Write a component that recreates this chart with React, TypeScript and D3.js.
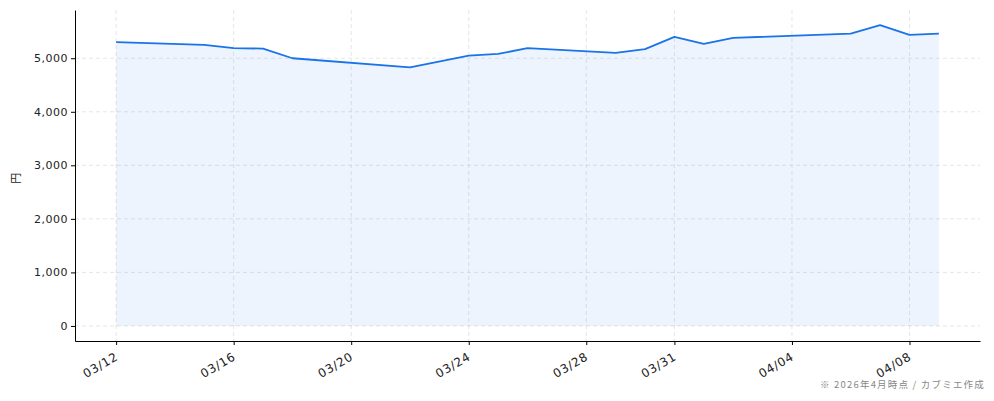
import React, { useEffect, useRef } from 'react';
import * as d3 from 'd3';

// daily closing price (円)
const dates = [
  '2026-03-12', '2026-03-15', '2026-03-16', '2026-03-17', '2026-03-18',
  '2026-03-22', '2026-03-24', '2026-03-25', '2026-03-26', '2026-03-29',
  '2026-03-30', '2026-03-31', '2026-04-01', '2026-04-02', '2026-04-06',
  '2026-04-07', '2026-04-08', '2026-04-09',
];
const prices = [
  5300, 5250, 5190, 5180, 5000,
  4830, 5050, 5080, 5190, 5100,
  5170, 5400, 5270, 5380, 5460,
  5620, 5435, 5460,
];
const xTickDates = [
  '2026-03-12', '2026-03-16', '2026-03-20', '2026-03-24',
  '2026-03-28', '2026-03-31', '2026-04-04', '2026-04-08',
];
const yTicks = [0, 1000, 2000, 3000, 4000, 5000];

const W = 994;
const H = 401;
const FONT = '"Noto Sans CJK JP", "Noto Sans", sans-serif';
const NUM_FONT = '"DejaVu Sans", "Noto Sans CJK JP", sans-serif';

const App: React.FC = () => {
  const ref = useRef<SVGSVGElement>(null);

  useEffect(() => {
    const svg = d3.select(ref.current);
    svg.selectAll('*').remove();

    const margin = { top: 10, right: 14, bottom: 60, left: 75 };
    const parse = d3.timeParse('%Y-%m-%d');
    const data = dates.map((d, i) => ({ date: parse(d)!, value: prices[i] }));

    // matplotlib-style 5% margins
    const x0 = data[0].date.getTime();
    const x1 = data[data.length - 1].date.getTime();
    const xPad = (x1 - x0) * 0.05;
    const x = d3.scaleTime()
      .domain([new Date(x0 - xPad), new Date(x1 + xPad)])
      .range([margin.left, W - margin.right]);

    const yMax = d3.max(prices)!;
    const yPad = yMax * 0.05;
    const y = d3.scaleLinear()
      .domain([-yPad, yMax + yPad])
      .range([H - margin.bottom, margin.top]);

    const ticks = xTickDates.map(d => parse(d)!);

    // grid
    const grid = svg.append('g');
    grid.selectAll('line.gx')
      .data(ticks)
      .enter().append('line')
      .attr('x1', d => x(d)).attr('x2', d => x(d))
      .attr('y1', margin.top).attr('y2', H - margin.bottom)
      .attr('stroke', '#dcdfe4').attr('stroke-dasharray', '4,3').attr('stroke-width', 0.8);
    grid.selectAll('line.gy')
      .data(yTicks)
      .enter().append('line')
      .attr('x1', margin.left).attr('x2', W - margin.right)
      .attr('y1', d => y(d)).attr('y2', d => y(d))
      .attr('stroke', '#dcdfe4').attr('stroke-dasharray', '4,3').attr('stroke-width', 0.8);

    // area + line
    const area = d3.area<any>()
      .x(d => x(d.date))
      .y0(y(0))
      .y1(d => y(d.value));
    svg.append('path')
      .datum(data)
      .attr('fill', '#1a73e8')
      .attr('fill-opacity', 0.08)
      .attr('d', area);

    const line = d3.line<any>()
      .x(d => x(d.date))
      .y(d => y(d.value));
    svg.append('path')
      .datum(data)
      .attr('fill', 'none')
      .attr('stroke', '#1a73e8')
      .attr('stroke-width', 1.8)
      .attr('stroke-linejoin', 'round')
      .attr('d', line);

    // x axis
    const xAxis = svg.append('g')
      .attr('transform', `translate(0,${H - margin.bottom})`)
      .call(d3.axisBottom(x).tickValues(ticks).tickFormat(d3.timeFormat('%m/%d') as any).tickSize(4).tickSizeOuter(0));
    xAxis.select('.domain').attr('stroke', '#000').attr('stroke-width', 1);
    xAxis.selectAll('.tick line').attr('stroke', '#000');
    xAxis.selectAll('.tick text')
      .attr('font-family', NUM_FONT)
      .attr('font-size', 12)
      .attr('letter-spacing', 0.7)
      .attr('fill', '#222')
      .attr('text-anchor', 'end')
      .attr('dy', '0.3em')
      .attr('transform', 'translate(-3,9) rotate(-30)');

    // y axis
    const yAxis = svg.append('g')
      .attr('transform', `translate(${margin.left},0)`)
      .call(d3.axisLeft(y).tickValues(yTicks).tickFormat(d3.format(',') as any).tickSize(4).tickSizeOuter(0));
    yAxis.select('.domain').attr('stroke', '#000').attr('stroke-width', 1);
    yAxis.selectAll('.tick line').attr('stroke', '#000');
    yAxis.selectAll('.tick text')
      .attr('font-family', NUM_FONT)
      .attr('font-size', 11)
      .attr('letter-spacing', 0.5)
      .attr('fill', '#222');

    // y label
    svg.append('text')
      .attr('transform', `translate(20,${y(3000) + 13}) rotate(-90)`)
      .attr('text-anchor', 'middle')
      .attr('font-family', FONT)
      .attr('font-size', 11)
      .attr('fill', '#222')
      .text('円');

    // footnote
    svg.append('text')
      .attr('x', 985)
      .attr('y', 388)
      .attr('text-anchor', 'end')
      .attr('font-family', FONT)
      .attr('font-size', 9.5)
      .attr('letter-spacing', 1.2)
      .attr('fill', '#888')
      .text('※ 2026年4月時点 / カブミエ作成');
  }, []);

  return (
    <svg
      ref={ref}
      width={W}
      height={H}
      style={{ position: 'absolute', left: 0, top: 0, background: '#fff' }}
    />
  );
};

export default App;
